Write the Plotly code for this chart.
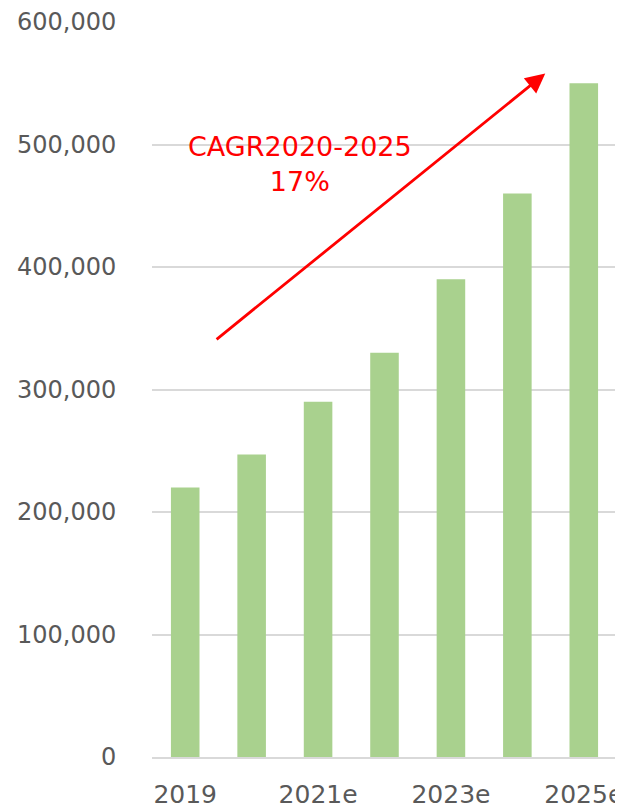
import plotly.graph_objects as go

categories = ["2019", "2020", "2021e", "2022e", "2023e", "2024e", "2025e"]
values = [220000, 247000, 290000, 330000, 390000, 460000, 550000]
xtick_labels = ["2019", "2021e", "2023e", "2025e"]
ytick_vals = [0, 100000, 200000, 300000, 400000, 500000, 600000]

fig = go.Figure(go.Bar(x=categories, y=values, marker=dict(color="#A9D18E", line=dict(width=0)),
                       hoverinfo="skip"))

font_family = "DejaVu Sans, Verdana, sans-serif"
# page body adds an 8px offset, so the figure is 615x800 and margins are shifted
fig.update_layout(
    width=615, height=800,
    margin=dict(l=144, r=6, t=14, b=51, autoexpand=False),
    plot_bgcolor="white", paper_bgcolor="white",
    bargap=0.57,
    showlegend=False,
    font=dict(family=font_family, size=24, color="#595959"),
)
fig.update_xaxes(
    type="category", tickmode="array", tickvals=xtick_labels, ticktext=xtick_labels,
    showgrid=False, showline=True, linecolor="#D9D9D9", linewidth=1.5,
    ticks="outside", ticklen=14, tickcolor="rgba(0,0,0,0)",
    tickfont=dict(size=25, color="#595959"),
    range=[-0.5, 6.5], automargin=False,
)
fig.update_yaxes(
    range=[0, 600000], tickvals=ytick_vals, tickformat=",d",
    showgrid=True, gridcolor="#D9D9D9", gridwidth=1.5, zeroline=False,
    ticks="outside", ticklen=30, tickcolor="rgba(0,0,0,0)",
    tickfont=dict(size=24, color="#595959"), automargin=False,
)

fig.add_annotation(
    x=5.42, y=558000, ax=0.45, ay=340000, xref="x", yref="y", axref="x", ayref="y",
    showarrow=True, arrowhead=2, arrowsize=1.4, arrowwidth=2.8, arrowcolor="#FF0000", text="",
)
fig.add_annotation(
    x=1.73, y=484000, xref="x", yref="y", showarrow=False,
    text="CAGR2020-2025<br>17%", align="center",
    font=dict(family=font_family, size=27, color="#FF0000"),
)

fig.write_html("out.html")
